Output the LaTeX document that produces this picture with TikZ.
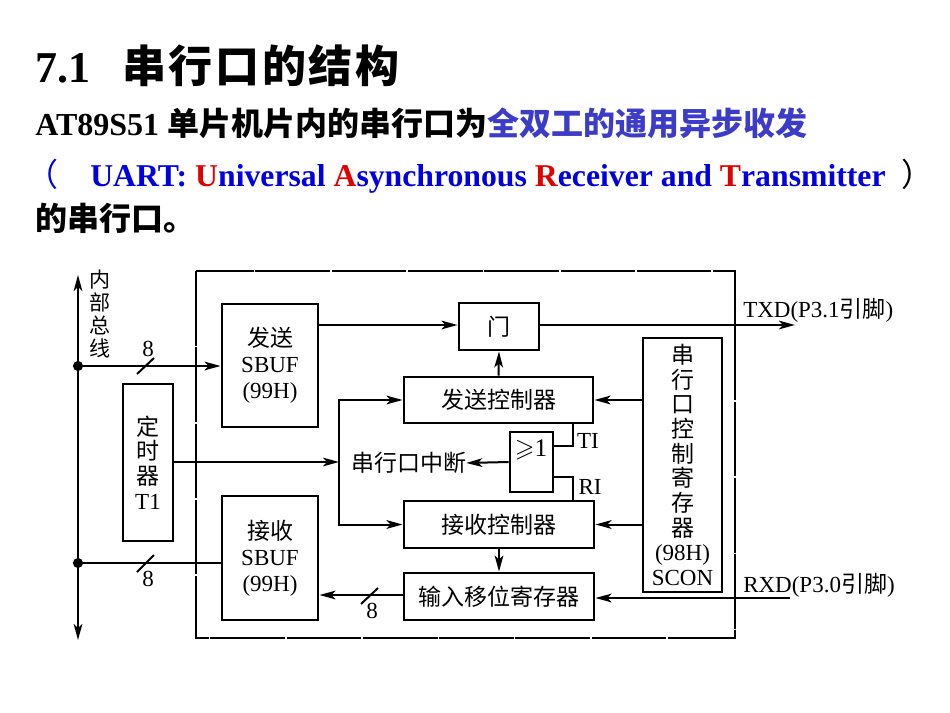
\documentclass[tikz,border=0pt]{standalone}
\usepackage{amssymb}
\usepackage{fontspec}
\setmainfont{Liberation Serif}
\newfontfamily\cjk{Noto Sans CJK SC}
\newfontfamily\cjkB[LetterSpace=6]{Noto Sans CJK SC}
\usetikzlibrary{arrows.meta}
\definecolor{pblue}{RGB}{60,60,200}
\definecolor{ublue}{RGB}{0,0,225}
\definecolor{ured}{RGB}{225,0,0}
\newcommand\dfont{\fontsize{17.25pt}{19.5pt}\selectfont}
\newcommand\dfontv{\fontsize{17.25pt}{18.5pt}\selectfont}
\begin{document}
\begin{tikzpicture}[x=0.75pt,y=-0.75pt,
  wh/.style 2 args={minimum width=#1*0.75pt, minimum height=#2*0.75pt},
  blk/.style={draw, line width=2.2pt, inner sep=0pt, align=center, font=\dfont},
  vblk/.style={blk, font=\dfontv},
  arr/.style={line width=1.5pt, -{Stealth[length=12pt,width=6.5pt,inset=3pt]}},
  darr/.style={line width=1.5pt, {Stealth[length=12pt,width=6.5pt,inset=3pt]}-{Stealth[length=12pt,width=6.5pt,inset=3pt]}},
  ln/.style={line width=1.5pt},
  lbl/.style={inner sep=0pt, font=\dfont},
  frame/.style={line width=1.1pt, dash pattern=on 56pt off 1.2pt},
  head/.style={inner sep=0pt, anchor=base west}]
\useasboundingbox (0,0) rectangle (950,713);

% ---------- heading text ----------
\node[head] (title) at (35,83) {\fontsize{33pt}{36pt}\selectfont\bfseries 7.1\hspace{24pt}{\cjkB 串行口的结构}};
\node[head] (l2) at (35,136) {\fontsize{24pt}{28pt}\selectfont\bfseries AT89S51 {\cjk 单片机片内的串行口为}{\color{pblue}\cjk 全双工的通用异步收发}};
\node[head] (lp) at (26,187) {\fontsize{24pt}{28pt}\selectfont\color{ublue}\cjk （};
\node[head] (l3) at (90,187) {\fontsize{23.8pt}{28pt}\selectfont\bfseries\color{ublue}UART: {\color{ured}U}niversal {\color{ured}A}synchronous {\color{ured}R}eceiver and {\color{ured}T}ransmitter};
\node[head] (rp) at (901,187) {\fontsize{24pt}{28pt}\selectfont\cjk ）};
\node[head] (l4) at (35,230) {\fontsize{24pt}{28pt}\selectfont\bfseries\cjk 的串行口。};

% ---------- frame ----------
\draw[frame] (196,271) rectangle (735,638);

% ---------- blocks ----------
\node[blk, wh={96}{123}] (sbufT) at (270,365.5) {{\cjk 发送}\\SBUF\\(99H)};
\node[blk, wh={96}{124}] (sbufR) at (270,558) {{\cjk 接收}\\SBUF\\(99H)};
\node[vblk, wh={50}{157}] (timer) at (148,462.5) {{\cjk 定}\\{\cjk 时}\\{\cjk 器}\\T1};
\node[blk, wh={80}{47}] (gate) at (499,326.5) {\cjk 门};
\node[blk, wh={189}{46}] (txc) at (498.5,400) {\cjk 发送控制器};
\node[blk, wh={190}{47}] (rxc) at (499,524.5) {\cjk 接收控制器};
\node[blk, wh={190}{47}] (shift) at (499,596.5) {\cjk 输入移位寄存器};
\node[vblk, wh={79}{254}] (scon) at (682.5,465) {{\cjk 串}\\{\cjk 行}\\{\cjk 口}\\{\cjk 控}\\{\cjk 制}\\{\cjk 寄}\\{\cjk 存}\\{\cjk 器}\\(98H)\\SCON};
\node[blk, wh={43}{60}] (or) at (531.5,462) {};
\node[lbl] (orl) at (531,450) {\fontsize{19pt}{20pt}\selectfont$\geqslant$1};

% ---------- labels ----------
\node[lbl, align=center, font=\fontsize{15.75pt}{17.25pt}\selectfont] (bus) at (100,314) {{\cjk 内}\\{\cjk 部}\\{\cjk 总}\\{\cjk 线}};
\node[lbl] (intr) at (408.5,463) {\cjk 串行口中断};
\node[lbl] (til) at (588,441) {TI};
\node[lbl] (ril) at (590,487) {RI};
\node[lbl, anchor=base west] (txdl) at (743,317) {TXD(P3.1{\cjk 引脚})};
\node[lbl, anchor=base west] (rxdl) at (743,592) {RXD(P3.0{\cjk 引脚})};
\node[lbl] (n8a) at (148,349) {8};
\node[lbl] (n8b) at (148,579) {8};
\node[lbl] (n8c) at (372,611) {8};

% ---------- coordinates ----------
\coordinate (busT) at (78,275);
\coordinate (busB) at (78,640);
\coordinate (dotT) at (78,366);
\coordinate (dotB) at (78,563);
\coordinate (split) at (339,462);
\coordinate (ti) at (573,446);
\coordinate (ri) at (573,477);
\coordinate (txd) at (795,325);
\coordinate (rxd) at (790,598);

% ---------- connectors ----------
\draw[darr] (busT) -- (busB);
\fill (dotT) circle[radius=3.8pt];
\fill (dotB) circle[radius=3.8pt];
\draw[arr] (dotT) -- (dotT -| sbufT.west);
\draw[ln] (dotB) -- (dotB -| sbufR.west);
\draw[arr] (sbufT.east |- 0,325) -- (gate.west |- 0,325);
\draw[arr] (gate.east |- txd) -- (txd);
\draw[arr] (txc.north) -- (gate.south);
\draw[arr] (timer.east |- split) -- (split);
\draw[arr] (split) |- (txc.west);
\draw[arr] (split) |- (rxc.west);
\draw[arr] (scon.west |- txc) -- (txc.east);
\draw[arr] (scon.west |- rxc) -- (rxc.east);
\draw[ln] (txc.south -| ti) -- (ti) -- (ti -| or.east);
\draw[ln] (rxc.north -| ri) -- (ri) -- (ri -| or.east);
\draw[arr] (or.west) -- (intr.east);
\draw[arr] (rxc.south) -- (shift.north);
\draw[arr] (rxd) -- (shift.east |- rxd);
\draw[arr] (shift.west |- 0,595) -- (sbufR.east |- 0,595);

% ---------- bus-width slashes ----------
\draw[ln] (137,374) -- (154,358);
\draw[ln] (137,572) -- (154,555);
\draw[ln] (361,604) -- (378,588);
\end{tikzpicture}
\end{document}
